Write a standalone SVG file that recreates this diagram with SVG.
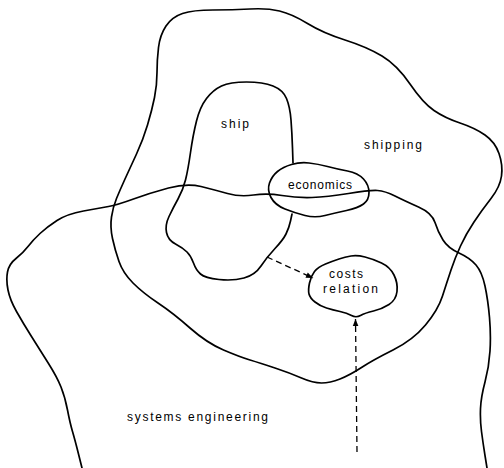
<svg xmlns="http://www.w3.org/2000/svg" width="504" height="468" viewBox="0 0 504 468">
  <style>
    .outline { fill: none; stroke: #000; stroke-width: 1.7; stroke-linejoin: round; stroke-linecap: round; }
    .blob { fill: #fff; stroke: #000; stroke-width: 1.7; stroke-linejoin: round; }
    .dash { fill: none; stroke: #000; stroke-width: 1.3; stroke-dasharray: 6 4; }
    .label { font-family: "Liberation Sans", Arial, sans-serif; font-size: 12px; fill: #000; }
  </style>
  <defs>
    <marker id="arrow" viewBox="0 0 10 10" refX="10" refY="5" markerWidth="8" markerHeight="7" markerUnits="userSpaceOnUse" orient="auto">
      <path d="M0,1 L10,5 L0,9 Z" fill="#000"/>
    </marker>
  </defs>
  <rect width="504" height="468" fill="#fff"/>

  <!-- shipping domain -->
  <g id="shipping">
    <path class="outline" d="M157,72.5 Q157,60 158.5,47.5 Q160,35 166,26 Q172,17 182.5,13.5 Q193,10 213,10 Q233,10 250,9 Q267,8 279.5,11 Q292,14 307.5,23.5 Q323,33 345,40 Q367,47 382,56 Q397,65 410,84 Q423,103 434,110.5 Q445,118 460,123 Q475,128 485,135 Q495,142 499,153.5 Q503,165 501.5,176 Q500,187 491,198.5 Q482,210 474,222 Q466,234 460.5,246 Q455,258 451,270 Q447,282 442.5,296 Q438,310 425.5,325 Q413,340 393,350 Q373,360 361.5,367.5 Q350,375 340,379 Q330,383 321.5,383 Q313,383 301.5,378 Q290,373 275,368 Q260,363 250,360 Q240,357 223.5,350 Q207,343 190,328 Q173,313 158,303 Q143,293 133,283 Q123,273 119,261.5 Q115,250 112.5,238.5 Q110,227 111.5,217 Q113,207 116.5,198.5 Q120,190 125,179 Q130,168 136.5,154 Q143,140 147.5,125 Q152,110 154.5,97.5 Q157,85 157,72.5 Z"/>
    <text class="label" x="364" y="149" textLength="58" lengthAdjust="spacing">shipping</text>
  </g>

  <!-- ship domain -->
  <g id="ship">
    <path class="outline" d="M292,214 L290.5,221 Q289,228 286,234 Q283,240 275,248.5 Q267,257 261,266 Q255,275 244,278 Q233,281 219,279.5 Q205,278 200.5,274 Q196,270 193.5,263 Q191,256 187,252 Q183,248 175.5,244 Q168,240 166.5,232.5 Q165,225 169,216.5 Q173,208 178,199 Q183,190 185.5,180 Q188,170 190.5,152.5 Q193,135 196.5,121 Q200,107 206.5,98.5 Q213,90 221.5,86 Q230,82 246.5,82 Q263,82 273,86 Q283,90 286.5,98.5 Q290,107 291,120 Q292,133 292.5,148 L293,163"/>
    <text class="label" x="221" y="128" textLength="28" lengthAdjust="spacing">ship</text>
  </g>

  <!-- economics -->
  <g id="economics">
    <path class="blob" d="M271,197.5 Q267,190 269.5,183 Q272,176 277.5,171.5 Q283,167 291.5,164.5 Q300,162 309,163 Q318,164 327.5,166.5 Q337,169 347.5,171 Q358,173 363.5,179 Q369,185 369,192.5 Q369,200 363.5,204 Q358,208 346.5,210.5 Q335,213 325,215.5 Q315,218 305,215.5 Q295,213 285,209 Q275,205 271,197.5 Z"/>
    <text class="label" x="288" y="189" textLength="64" lengthAdjust="spacing">economics</text>
  </g>

  <!-- systems engineering domain -->
  <g id="systems-engineering">
    <path class="outline" d="M82,468 L78.5,454 Q75,440 72.5,431.5 Q70,423 67.5,410 Q65,397 61,387 Q57,377 48.5,363.5 Q40,350 31.5,336.5 Q23,323 16.5,311.5 Q10,300 8,290 Q6,280 7.5,272 Q9,264 16,258.5 Q23,253 28,246.5 Q33,240 40,233.5 Q47,227 57,220.5 Q67,214 83.5,211 Q100,208 108.5,206.5 Q117,205 133.5,199 Q150,193 168.5,188 Q187,183 201,186.5 Q215,190 227.5,193.5 Q240,197 253.5,195 Q267,193 282,195.5 Q297,198 312,197.5 Q327,197 348.5,193.5 Q370,190 377.5,190.5 Q385,191 395,196 Q405,201 418.5,207 Q432,213 435,222.5 Q438,232 443,240 Q448,248 459,253 Q470,258 476,265 Q482,272 485,286 Q488,300 489.5,317.5 Q491,335 490,351 Q489,367 485,382 Q481,397 480.5,408.5 Q480,420 481.5,431.5 Q483,443 485,455.5 L487,468"/>
    <text class="label" x="127" y="421" textLength="141" lengthAdjust="spacing">systems engineering</text>
  </g>

  <!-- costs relation -->
  <g id="costs-relation">
    <path class="blob" d="M309,294 Q308,290 309.5,283 Q311,276 314.5,271.5 Q318,267 325.5,264 Q333,261 339,259 Q345,257 351,256 Q357,255 365,257 Q373,259 381.5,263 Q390,267 394,275 Q398,283 397,291.5 Q396,300 389,304.5 Q382,309 373.5,311 Q365,313 360.5,315.5 Q356,318 351.5,315.5 Q347,313 340,311.5 Q333,310 326.5,308 Q320,306 315,302 Q310,298 309,294 Z"/>
    <text class="label" x="329" y="278" textLength="34" lengthAdjust="spacing">costs</text>
    <text class="label" x="323" y="293" textLength="55" lengthAdjust="spacing">relation</text>
  </g>

  <!-- connectors -->
  <g id="connectors">
    <line class="dash" x1="267" y1="257" x2="313" y2="278" marker-end="url(#arrow)"/>
    <line class="dash" x1="357" y1="452" x2="355.5" y2="319" marker-end="url(#arrow)"/>
  </g>
</svg>
